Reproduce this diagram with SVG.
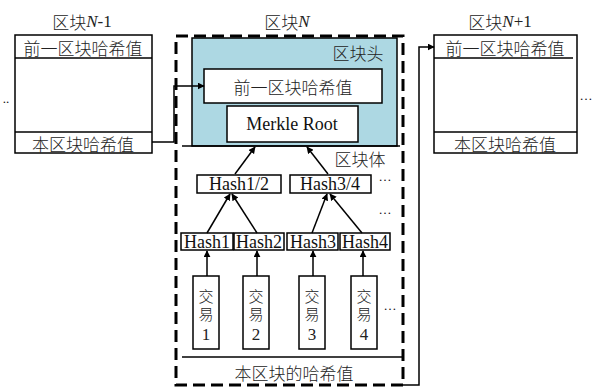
<svg xmlns="http://www.w3.org/2000/svg" width="595" height="387" viewBox="0 0 595 387">
<defs>
<style>
.t{font-family:"Liberation Serif","Noto Sans CJK SC",serif;font-size:18px;fill:#111;text-anchor:middle;dominant-baseline:central}
.c{font-family:"Noto Sans CJK SC",sans-serif;font-size:17px;fill:#222;text-anchor:middle;dominant-baseline:central;font-weight:300}
.d{font-family:"Liberation Serif",serif;font-size:13px;fill:#111;text-anchor:middle}
.x{font-family:"Noto Sans CJK SC",sans-serif;font-size:15px;fill:#222;font-weight:300;writing-mode:vertical-rl;text-orientation:upright;letter-spacing:3px}
.n{font-family:"Liberation Serif",serif;font-size:17px}
.box{fill:#fff;stroke:#000;stroke-width:1.5}
.ln{stroke:#000;stroke-width:1.5;fill:none}
.ar{stroke:#000;stroke-width:1.5;fill:none;marker-end:url(#ah)}
</style>
<marker id="ah" viewBox="0 0 10 10" refX="9" refY="5" markerWidth="7" markerHeight="7" markerUnits="userSpaceOnUse" orient="auto"><path d="M0,0 L10,5 L0,10 z" fill="#000"/></marker>
</defs>
<rect width="595" height="387" fill="#fff"/>

<g id="blockN-1">
<text class="c" x="82" y="21">区块<tspan font-family="Liberation Serif" font-style="italic">N</tspan><tspan font-family="Liberation Serif">-1</tspan></text>
<rect class="box" x="15" y="35" width="137" height="118"/>
<line class="ln" x1="15" y1="58" x2="152" y2="58" stroke-width="2"/>
<line class="ln" x1="15" y1="132" x2="152" y2="132" stroke-width="2"/>
<text class="c" x="83" y="47">前一区块哈希值</text>
<text class="c" x="83" y="143">本区块哈希值</text>
<text class="d" x="6" y="103">..</text>
</g>

<g id="blockN">
<text class="c" x="287" y="21">区块<tspan font-family="Liberation Serif" font-style="italic">N</tspan></text>
<rect x="176" y="36" width="227" height="349" fill="none" stroke="#000" stroke-width="3" stroke-dasharray="12 6"/>
<g id="header">
<rect x="192" y="38" width="205" height="108" fill="#add8e3" stroke="#000" stroke-width="1.5"/>
<line class="ln" x1="182" y1="146" x2="400" y2="146" stroke-width="2"/>
<text class="c" x="358" y="52">区块头</text>
</g>
<g id="prevhash"><rect class="box" x="204" y="69" width="178" height="34"/><text class="c" x="293" y="86">前一区块哈希值</text></g>
<g id="merkle"><rect class="box" x="227" y="106" width="131" height="36"/><text class="t" x="292" y="124">Merkle Root</text></g>
<text class="c" x="360" y="158">区块体</text>
<g id="hash12"><rect class="box" x="197" y="175" width="84" height="18"/><text class="t" x="239" y="184">Hash1/2</text></g>
<g id="hash34"><rect class="box" x="290" y="175" width="81" height="18"/><text class="t" x="330" y="184">Hash3/4</text></g>
<text class="d" x="385" y="181">…</text>
<text class="d" x="385" y="214">…</text>
<g id="hash1"><rect class="box" x="181" y="233" width="52" height="17"/><text class="t" x="207" y="242">Hash1</text></g>
<g id="hash2"><rect class="box" x="234" y="233" width="50" height="17"/><text class="t" x="259" y="242">Hash2</text></g>
<g id="hash3"><rect class="box" x="287" y="233" width="51" height="17"/><text class="t" x="313" y="242">Hash3</text></g>
<g id="hash4"><rect class="box" x="340" y="233" width="50" height="17"/><text class="t" x="365" y="242">Hash4</text></g>
<g id="tx1"><rect class="box" x="193" y="276" width="26" height="73"/><text class="x" x="206" y="289">交易<tspan class="n">1</tspan></text></g>
<g id="tx2"><rect class="box" x="243" y="276" width="26" height="73"/><text class="x" x="256" y="289">交易<tspan class="n">2</tspan></text></g>
<g id="tx3"><rect class="box" x="299" y="276" width="26" height="73"/><text class="x" x="312" y="289">交易<tspan class="n">3</tspan></text></g>
<g id="tx4"><rect class="box" x="351" y="276" width="26" height="73"/><text class="x" x="364" y="289">交易<tspan class="n">4</tspan></text></g>
<text class="d" x="390" y="310">…</text>
<line class="ln" x1="182" y1="357" x2="403" y2="357"/>
<text class="c" x="294" y="372">本区块的哈希值</text>
</g>

<g id="blockN+1">
<text class="c" x="500" y="21">区块<tspan font-family="Liberation Serif" font-style="italic">N</tspan><tspan font-family="Liberation Serif">+1</tspan></text>
<rect class="box" x="434" y="35" width="143" height="118"/>
<line class="ln" x1="434" y1="58" x2="573" y2="58" stroke-width="2"/>
<line class="ln" x1="434" y1="132" x2="577" y2="132" stroke-width="2"/>
<text class="c" x="505" y="47">前一区块哈希值</text>
<text class="c" x="505" y="143">本区块哈希值</text>
<text class="d" x="586" y="100">…</text>
</g>

<g id="connectors">
<polyline class="ar" points="152,142 174,142 174,86 204,86"/>
<polyline class="ar" points="403,385 419,385 419,47 434,47"/>
<line class="ar" x1="235" y1="174" x2="255" y2="147"/>
<line class="ar" x1="328" y1="174" x2="307" y2="147"/>
<line class="ar" x1="207" y1="233" x2="230" y2="194"/>
<line class="ar" x1="257" y1="233" x2="232" y2="194"/>
<line class="ar" x1="312" y1="233" x2="327" y2="194"/>
<line class="ar" x1="362" y1="233" x2="330" y2="194"/>
<line class="ar" x1="207" y1="276" x2="207" y2="251"/>
<line class="ar" x1="257" y1="276" x2="257" y2="251"/>
<line class="ar" x1="313" y1="276" x2="313" y2="251"/>
<line class="ar" x1="363" y1="276" x2="363" y2="251"/>
</g>
</svg>
